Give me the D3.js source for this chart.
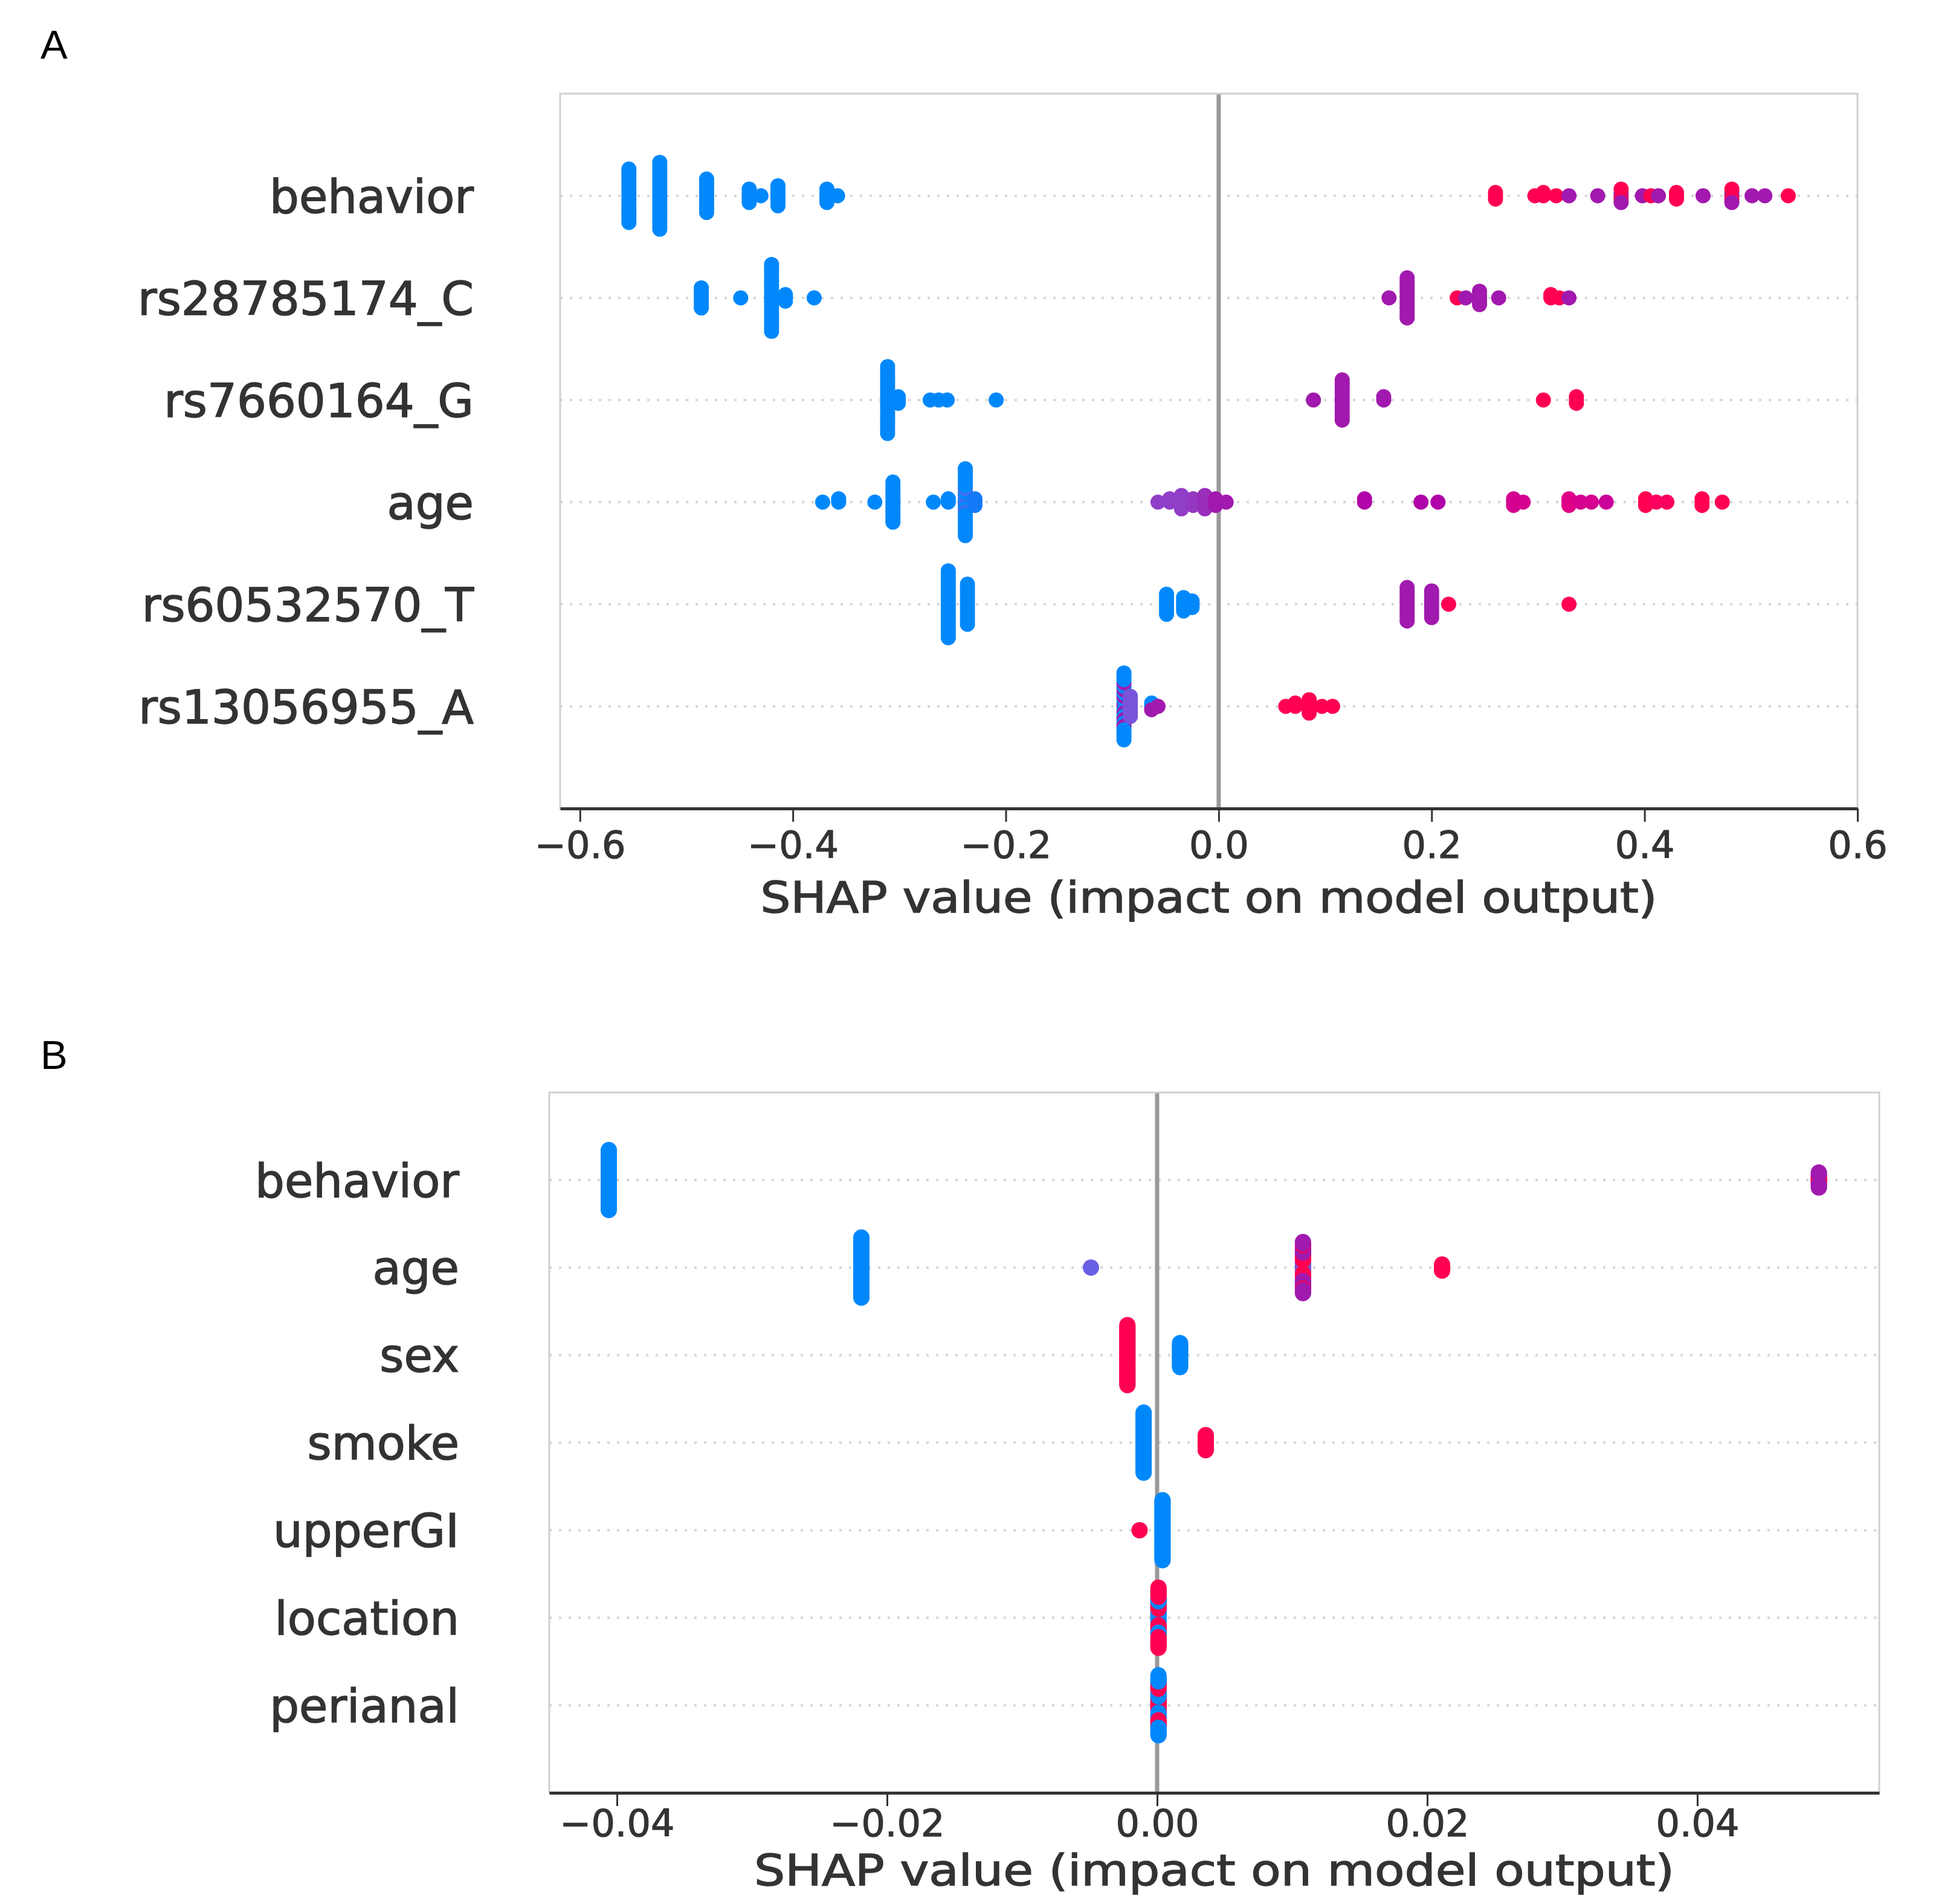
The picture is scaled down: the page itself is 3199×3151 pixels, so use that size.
<!DOCTYPE html>
<html>
<head>
<meta charset="utf-8">
<script src="https://cdn.jsdelivr.net/npm/d3@7"></script>
<style>
  body { margin: 0; background: #fff; }
  svg { display: block; }
</style>
</head>
<body>
<svg id="fig" width="3199" height="3151"></svg>
<script>
// ---- data: each cluster is [SHAP value, number of samples, feature value 0 (low) .. 1 (high)]

let featuresA = ["behavior", "rs28785174_C", "rs7660164_G", "age", "rs60532570_T", "rs13056955_A"];
let ticksA = [-0.6, -0.4, -0.2, 0.0, 0.2, 0.4, 0.6];
let domainA = [-0.6186, 0.6];

let behaviorA = [
    [-0.554, 17, 0], [-0.525, 21, 0], [-0.481, 11, 0], [-0.441, 5, 0], [-0.430, 1, 0],
    [-0.414, 7, 0], [-0.368, 5, 0], [-0.358, 1, 0],
    [0.260, 3, 1], [0.297, 1, 1], [0.305, 2, 1], [0.317, 1, 1], [0.329, 1, 0.5], [0.356, 1, 0.5],
    [0.378, 3, 0.5], [0.378, 2, 1], [0.398, 1, 0.5], [0.406, 1, 1], [0.413, 1, 0.5], [0.430, 3, 1],
    [0.455, 1, 0.5], [0.482, 3, 0.5], [0.482, 2, 1], [0.501, 1, 0.5], [0.513, 1, 0.5], [0.535, 1, 1]
];
let rs28785174A = [
    [-0.486, 7, 0], [-0.449, 1, 0], [-0.420, 21, 0], [-0.407, 3, 0], [-0.380, 1, 0],
    [0.160, 1, 0.5], [0.177, 13, 0.5], [0.224, 1, 1], [0.232, 1, 0.5], [0.245, 5, 0.5],
    [0.263, 1, 0.5], [0.312, 2, 1], [0.320, 1, 1], [0.329, 1, 0.5]
];
let rs7660164A = [
    [-0.311, 21, 0], [-0.301, 3, 0], [-0.271, 1, 0], [-0.263, 1, 0], [-0.255, 1, 0], [-0.209, 1, 0],
    [0.089, 1, 0.5], [0.116, 13, 0.5], [0.155, 2, 0.5], [0.305, 1, 1], [0.336, 3, 1]
];
let ageA = [
    [-0.372, 1, 0], [-0.357, 2, 0], [-0.323, 1, 0], [-0.306, 13, 0], [-0.268, 1, 0], [-0.254, 2, 0],
    [-0.238, 17, 0], [-0.238, 4, 0.15], [-0.229, 3, 0.1],
    [-0.057, 1, 0.4], [-0.046, 2, 0.4], [-0.035, 5, 0.4], [-0.024, 3, 0.42], [-0.013, 5, 0.45],
    [-0.003, 3, 0.5], [0.007, 1, 0.5], [0.137, 2, 0.55], [0.190, 1, 0.55], [0.206, 1, 0.55],
    [0.277, 3, 0.7], [0.286, 1, 0.7], [0.329, 3, 0.75], [0.340, 1, 0.7], [0.350, 1, 0.7],
    [0.364, 1, 0.65], [0.401, 3, 1], [0.411, 1, 0.95], [0.421, 1, 0.95], [0.454, 3, 1], [0.473, 1, 1]
];
let rs60532570A = [
    [-0.254, 21, 0], [-0.236, 13, 0], [-0.049, 7, 0], [-0.033, 5, 0], [-0.025, 3, 0],
    [0.177, 11, 0.5], [0.200, 9, 0.5], [0.216, 1, 1], [0.329, 1, 1]
];
let rs13056955A = [
    [-0.089, 8, 0.5], [-0.089, 13, 0], [-0.083, 7, 0.3], [-0.063, 2, 0], [-0.063, 1, 0.5], [-0.057, 1, 0.5],
    [0.063, 1, 1], [0.072, 2, 1], [0.085, 5, 1], [0.097, 1, 1], [0.107, 1, 1]
];

let featuresB = ["behavior", "age", "sex", "smoke", "upperGI", "location", "perianal"];
let ticksB = [-0.04, -0.02, 0.00, 0.02, 0.04];
let domainB = [-0.04501, 0.05347];

let behaviorB = [[-0.0406, 41, 0], [0.0490, 6, 1], [0.0490, 5, 0.5]];
let ageB = [[-0.0219, 41, 0], [-0.0049, 1, 0.25], [0.0108, 8, 0.3], [0.0108, 12, 1], [0.0108, 15, 0.5], [0.0211, 5, 1]];
let sexB = [[-0.0022, 41, 1], [0.0017, 17, 0]];
let smokeB = [[-0.0010, 41, 0], [0.0036, 11, 1]];
let upperGIB = [[-0.0013, 1, 1], [0.0004, 41, 0]];
let locationB = [[0.0001, 16, 0], [0.0001, 25, 1]];
let perianalB = [[0.0001, 20, 1], [0.0001, 21, 0]];

let AXIS = "#333333";
let TITLE = "SHAP value (impact on model output)";

// shap's red_blue map: LCh from blue to red, lightness dipping in the middle
function shapColor(t) {
    let l = t < 0.5 ? 54 - 28 * t : 40 + 28 * (t - 0.5);
    let c = 70 + 20 * t;
    let h = 266.93 + (380.32 - 266.93) * t;
    return d3.hcl(h % 360, c, l).formatHex();
}

// same binning / layering as shap.summary_plot; samples of one bin are
// taken from the clusters in runs of `run` so that mixed stacks interleave
function swarm(clusters, run) {
    let pts = [];
    clusters.forEach(function (c, ci) {
        for (let k = 0; k < c[1]; k++) pts.push({ v: c[0], c: c[2], k: k, ci: ci });
    });
    let lo = d3.min(pts, d => d.v), hi = d3.max(pts, d => d.v);
    pts.forEach(p => p.bin = Math.round(100 * (p.v - lo) / (hi - lo + 1e-8)));
    pts.sort((a, b) => a.bin - b.bin || Math.floor(a.k / run) - Math.floor(b.k / run) || a.ci - b.ci || a.k - b.k);
    let layer = 0, last = -1;
    pts.forEach(function (p) {
        if (p.bin !== last) layer = 0;
        p.y = Math.ceil(layer / 2) * ((layer % 2) * 2 - 1);
        layer++;
        last = p.bin;
    });
    let m = d3.max(pts, p => p.y + 1);
    pts.forEach(p => p.y *= 0.9 * 0.4 / m);
    return pts;
}

function drawPanel(svg, p) {
    let g = svg.append("g");
    let x = d3.scaleLinear().domain(p.domain).range([p.left, p.right]);
    let y = d3.scaleLinear().domain([-1, p.features.length]).range([p.top, p.bottom]);

    g.append("text")
        .attr("x", p.letterX).attr("y", p.letterY)
        .attr("font-family", "'Liberation Sans', Arial, sans-serif")
        .attr("font-size", 67)
        .attr("fill", "#000")
        .text(p.letter);

    // dotted row guides
    g.append("g").selectAll("line").data(p.features).join("line")
        .attr("x1", p.left).attr("x2", p.right)
        .attr("y1", (d, i) => y(i)).attr("y2", (d, i) => y(i))
        .attr("stroke", "#d6d6d6").attr("stroke-width", 4)
        .attr("stroke-dasharray", "4 12");

    g.append("line")
        .attr("x1", x(0)).attr("x2", x(0))
        .attr("y1", p.top).attr("y2", p.bottom)
        .attr("stroke", "#999999").attr("stroke-width", 7);

    p.series.forEach(function (clusters, i) {
        g.append("g").selectAll("circle").data(swarm(clusters, p.run)).join("circle")
            .attr("cx", d => x(d.v))
            .attr("cy", d => y(i - d.y))
            .attr("r", p.r)
            .attr("fill", d => shapColor(d.c));
    });

    g.append("rect")
        .attr("x", p.left).attr("y", p.top)
        .attr("width", p.right - p.left).attr("height", p.bottom - p.top)
        .attr("fill", "none").attr("stroke", "#cfcfcf").attr("stroke-width", 3);

    // feature names
    g.append("g").selectAll("text").data(p.features).join("text")
        .attr("x", p.labelX).attr("y", (d, i) => y(i))
        .attr("dy", "0.36em")
        .attr("text-anchor", "end")
        .attr("font-family", "'DejaVu Sans', sans-serif")
        .attr("font-size", 77)
        .attr("fill", AXIS)
        .attr("stroke", AXIS).attr("stroke-width", 1.5)
        .text(d => d);

    let ax = g.append("g")
        .attr("transform", `translate(0,${p.bottom})`)
        .call(d3.axisBottom(x).tickValues(p.ticks).tickFormat(d3.format(p.fmt))
            .tickSize(22).tickSizeOuter(0).tickPadding(p.tickPad));
    ax.select(".domain").attr("stroke", AXIS).attr("stroke-width", 5);
    ax.selectAll(".tick line").attr("stroke", AXIS).attr("stroke-width", 3);
    ax.selectAll(".tick text")
        .attr("font-family", "'DejaVu Sans', sans-serif")
        .attr("font-size", 62)
        .attr("fill", AXIS)
        .attr("stroke", AXIS).attr("stroke-width", 1.2);

    g.append("text")
        .attr("x", (p.left + p.right) / 2)
        .attr("y", p.bottom + p.titleBase)
        .attr("text-anchor", "middle")
        .attr("font-family", "'DejaVu Sans', sans-serif")
        .attr("font-size", 71)
        .attr("textLength", p.titleWidth)
        .attr("lengthAdjust", "spacingAndGlyphs")
        .attr("fill", AXIS)
        .attr("stroke", AXIS).attr("stroke-width", 1.5)
        .text(TITLE);
}

let svg = d3.select("#fig");
svg.append("rect").attr("width", 3199).attr("height", 3151).attr("fill", "#fff");

drawPanel(svg, {
    letter: "A", letterX: 67, letterY: 97,
    features: featuresA,
    series: [behaviorA, rs28785174A, rs7660164A, ageA, rs60532570A, rs13056955A],
    domain: domainA, ticks: ticksA, fmt: ".1f",
    left: 927, right: 3074, top: 155, bottom: 1338,
    labelX: 784, r: 12.5, run: 2, tickPad: 16, titleBase: 172, titleWidth: 1484
});

drawPanel(svg, {
    letter: "B", letterX: 67, letterY: 1769,
    features: featuresB,
    series: [behaviorB, ageB, sexB, smokeB, upperGIB, locationB, perianalB],
    domain: domainB, ticks: ticksB, fmt: ".2f",
    left: 909, right: 3110, top: 1808, bottom: 2967,
    labelX: 760, r: 13.5, run: 10, tickPad: 6, titleBase: 153, titleWidth: 1523
});
</script>
</body>
</html>
